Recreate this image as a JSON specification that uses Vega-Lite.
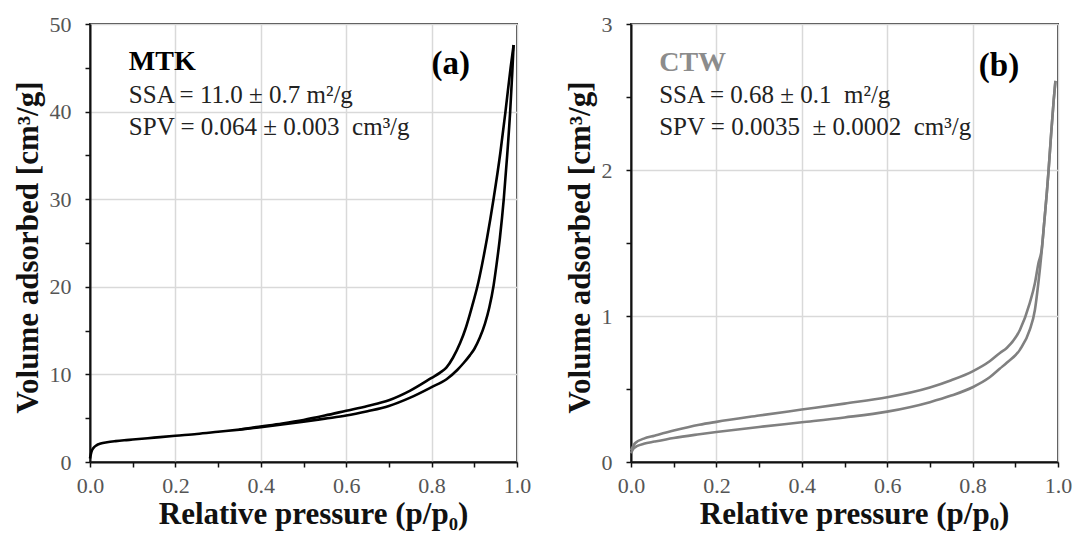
{
  "$schema": "https://vega.github.io/schema/vega-lite/v6.json",
  "autosize": {"type": "pad"},
  "padding": {"left": 11, "top": 12, "right": 5, "bottom": 5},
  "bounds": "flush",
  "spacing": 114,
  "background": "white",
  "config": {
    "font": "Liberation Serif",
    "view": {"stroke": "#3a3a3a", "strokeWidth": 2},
    "axis": {
      "labelFont": "Liberation Serif", "labelFontSize": 22, "labelColor": "#555555",
      "titleFont": "Liberation Serif", "titleFontSize": 31, "titleFontWeight": "bold", "titleColor": "#111111",
      "domainColor": "#111111", "domainWidth": 2, "tickColor": "#111111", "tickWidth": 1.5, "tickSize": 5,
      "gridColor": "#d9d9d9", "gridWidth": 1.5
    }
  },
  "datasets": {
    "curves": [
      {"panel": "MTK", "branch": "adsorption", "x": 0.0, "y": 0.4},
      {"panel": "MTK", "branch": "adsorption", "x": 0.003, "y": 1.1},
      {"panel": "MTK", "branch": "adsorption", "x": 0.008, "y": 1.6},
      {"panel": "MTK", "branch": "adsorption", "x": 0.015, "y": 1.9},
      {"panel": "MTK", "branch": "adsorption", "x": 0.025, "y": 2.1},
      {"panel": "MTK", "branch": "adsorption", "x": 0.04, "y": 2.25},
      {"panel": "MTK", "branch": "adsorption", "x": 0.06, "y": 2.38},
      {"panel": "MTK", "branch": "adsorption", "x": 0.08, "y": 2.48},
      {"panel": "MTK", "branch": "adsorption", "x": 0.1, "y": 2.56},
      {"panel": "MTK", "branch": "adsorption", "x": 0.15, "y": 2.78},
      {"panel": "MTK", "branch": "adsorption", "x": 0.2, "y": 3.0},
      {"panel": "MTK", "branch": "adsorption", "x": 0.25, "y": 3.2},
      {"panel": "MTK", "branch": "adsorption", "x": 0.3, "y": 3.45},
      {"panel": "MTK", "branch": "adsorption", "x": 0.35, "y": 3.7},
      {"panel": "MTK", "branch": "adsorption", "x": 0.4, "y": 3.98},
      {"panel": "MTK", "branch": "adsorption", "x": 0.45, "y": 4.28},
      {"panel": "MTK", "branch": "adsorption", "x": 0.5, "y": 4.6},
      {"panel": "MTK", "branch": "adsorption", "x": 0.55, "y": 4.95},
      {"panel": "MTK", "branch": "adsorption", "x": 0.6, "y": 5.3},
      {"panel": "MTK", "branch": "adsorption", "x": 0.65, "y": 5.8},
      {"panel": "MTK", "branch": "adsorption", "x": 0.7, "y": 6.4},
      {"panel": "MTK", "branch": "adsorption", "x": 0.75, "y": 7.35},
      {"panel": "MTK", "branch": "adsorption", "x": 0.8, "y": 8.55},
      {"panel": "MTK", "branch": "adsorption", "x": 0.835, "y": 9.45},
      {"panel": "MTK", "branch": "adsorption", "x": 0.86, "y": 10.5},
      {"panel": "MTK", "branch": "adsorption", "x": 0.875, "y": 11.3},
      {"panel": "MTK", "branch": "adsorption", "x": 0.89, "y": 12.2},
      {"panel": "MTK", "branch": "adsorption", "x": 0.9, "y": 12.9},
      {"panel": "MTK", "branch": "adsorption", "x": 0.913, "y": 14.2},
      {"panel": "MTK", "branch": "adsorption", "x": 0.925, "y": 15.8},
      {"panel": "MTK", "branch": "adsorption", "x": 0.935, "y": 17.6},
      {"panel": "MTK", "branch": "adsorption", "x": 0.945, "y": 20.1},
      {"panel": "MTK", "branch": "adsorption", "x": 0.952, "y": 22.5},
      {"panel": "MTK", "branch": "adsorption", "x": 0.96, "y": 25.6},
      {"panel": "MTK", "branch": "adsorption", "x": 0.969, "y": 30.0},
      {"panel": "MTK", "branch": "adsorption", "x": 0.977, "y": 35.0},
      {"panel": "MTK", "branch": "adsorption", "x": 0.984, "y": 40.0},
      {"panel": "MTK", "branch": "adsorption", "x": 0.989, "y": 44.5},
      {"panel": "MTK", "branch": "adsorption", "x": 0.992, "y": 47.6},
      {"panel": "MTK", "branch": "desorption", "x": 0.35, "y": 3.72},
      {"panel": "MTK", "branch": "desorption", "x": 0.4, "y": 4.06},
      {"panel": "MTK", "branch": "desorption", "x": 0.45, "y": 4.4},
      {"panel": "MTK", "branch": "desorption", "x": 0.5, "y": 4.8},
      {"panel": "MTK", "branch": "desorption", "x": 0.55, "y": 5.3},
      {"panel": "MTK", "branch": "desorption", "x": 0.6, "y": 5.85},
      {"panel": "MTK", "branch": "desorption", "x": 0.65, "y": 6.4},
      {"panel": "MTK", "branch": "desorption", "x": 0.7, "y": 7.05},
      {"panel": "MTK", "branch": "desorption", "x": 0.75, "y": 8.15},
      {"panel": "MTK", "branch": "desorption", "x": 0.8, "y": 9.6},
      {"panel": "MTK", "branch": "desorption", "x": 0.82, "y": 10.2},
      {"panel": "MTK", "branch": "desorption", "x": 0.835, "y": 10.8},
      {"panel": "MTK", "branch": "desorption", "x": 0.85, "y": 11.9},
      {"panel": "MTK", "branch": "desorption", "x": 0.867, "y": 13.6},
      {"panel": "MTK", "branch": "desorption", "x": 0.88, "y": 15.3},
      {"panel": "MTK", "branch": "desorption", "x": 0.895, "y": 17.8},
      {"panel": "MTK", "branch": "desorption", "x": 0.907, "y": 20.0},
      {"panel": "MTK", "branch": "desorption", "x": 0.918, "y": 22.5},
      {"panel": "MTK", "branch": "desorption", "x": 0.93, "y": 25.6},
      {"panel": "MTK", "branch": "desorption", "x": 0.945, "y": 30.0},
      {"panel": "MTK", "branch": "desorption", "x": 0.961, "y": 35.3},
      {"panel": "MTK", "branch": "desorption", "x": 0.973, "y": 40.0},
      {"panel": "MTK", "branch": "desorption", "x": 0.985, "y": 45.0},
      {"panel": "MTK", "branch": "desorption", "x": 0.992, "y": 47.6},
      {"panel": "CTW", "branch": "adsorption", "x": 0.0, "y": 0.06},
      {"panel": "CTW", "branch": "adsorption", "x": 0.005, "y": 0.09},
      {"panel": "CTW", "branch": "adsorption", "x": 0.015, "y": 0.11},
      {"panel": "CTW", "branch": "adsorption", "x": 0.03, "y": 0.125},
      {"panel": "CTW", "branch": "adsorption", "x": 0.055, "y": 0.14},
      {"panel": "CTW", "branch": "adsorption", "x": 0.1, "y": 0.165},
      {"panel": "CTW", "branch": "adsorption", "x": 0.16, "y": 0.19},
      {"panel": "CTW", "branch": "adsorption", "x": 0.2, "y": 0.205},
      {"panel": "CTW", "branch": "adsorption", "x": 0.3, "y": 0.24},
      {"panel": "CTW", "branch": "adsorption", "x": 0.4, "y": 0.272},
      {"panel": "CTW", "branch": "adsorption", "x": 0.5, "y": 0.305},
      {"panel": "CTW", "branch": "adsorption", "x": 0.6, "y": 0.345},
      {"panel": "CTW", "branch": "adsorption", "x": 0.7, "y": 0.41},
      {"panel": "CTW", "branch": "adsorption", "x": 0.75, "y": 0.455},
      {"panel": "CTW", "branch": "adsorption", "x": 0.8, "y": 0.512},
      {"panel": "CTW", "branch": "adsorption", "x": 0.84, "y": 0.58},
      {"panel": "CTW", "branch": "adsorption", "x": 0.864, "y": 0.64},
      {"panel": "CTW", "branch": "adsorption", "x": 0.88, "y": 0.68},
      {"panel": "CTW", "branch": "adsorption", "x": 0.911, "y": 0.77},
      {"panel": "CTW", "branch": "adsorption", "x": 0.934, "y": 0.906},
      {"panel": "CTW", "branch": "adsorption", "x": 0.946, "y": 1.043},
      {"panel": "CTW", "branch": "adsorption", "x": 0.954, "y": 1.226},
      {"panel": "CTW", "branch": "adsorption", "x": 0.962, "y": 1.45},
      {"panel": "CTW", "branch": "adsorption", "x": 0.968, "y": 1.65},
      {"panel": "CTW", "branch": "adsorption", "x": 0.974, "y": 1.85},
      {"panel": "CTW", "branch": "adsorption", "x": 0.978, "y": 2.0},
      {"panel": "CTW", "branch": "adsorption", "x": 0.984, "y": 2.25},
      {"panel": "CTW", "branch": "adsorption", "x": 0.99, "y": 2.48},
      {"panel": "CTW", "branch": "adsorption", "x": 0.994, "y": 2.61},
      {"panel": "CTW", "branch": "desorption", "x": 0.0, "y": 0.08},
      {"panel": "CTW", "branch": "desorption", "x": 0.01, "y": 0.13},
      {"panel": "CTW", "branch": "desorption", "x": 0.03, "y": 0.16},
      {"panel": "CTW", "branch": "desorption", "x": 0.055, "y": 0.18},
      {"panel": "CTW", "branch": "desorption", "x": 0.1, "y": 0.215},
      {"panel": "CTW", "branch": "desorption", "x": 0.16, "y": 0.255},
      {"panel": "CTW", "branch": "desorption", "x": 0.2, "y": 0.275},
      {"panel": "CTW", "branch": "desorption", "x": 0.3, "y": 0.318},
      {"panel": "CTW", "branch": "desorption", "x": 0.4, "y": 0.359},
      {"panel": "CTW", "branch": "desorption", "x": 0.5, "y": 0.4},
      {"panel": "CTW", "branch": "desorption", "x": 0.6, "y": 0.443},
      {"panel": "CTW", "branch": "desorption", "x": 0.7, "y": 0.51},
      {"panel": "CTW", "branch": "desorption", "x": 0.75, "y": 0.56},
      {"panel": "CTW", "branch": "desorption", "x": 0.8, "y": 0.621},
      {"panel": "CTW", "branch": "desorption", "x": 0.84, "y": 0.69},
      {"panel": "CTW", "branch": "desorption", "x": 0.864, "y": 0.747},
      {"panel": "CTW", "branch": "desorption", "x": 0.88, "y": 0.781},
      {"panel": "CTW", "branch": "desorption", "x": 0.911, "y": 0.906},
      {"panel": "CTW", "branch": "desorption", "x": 0.934, "y": 1.09},
      {"panel": "CTW", "branch": "desorption", "x": 0.946, "y": 1.226},
      {"panel": "CTW", "branch": "desorption", "x": 0.954, "y": 1.36},
      {"panel": "CTW", "branch": "desorption", "x": 0.962, "y": 1.46},
      {"panel": "CTW", "branch": "desorption", "x": 0.968, "y": 1.65},
      {"panel": "CTW", "branch": "desorption", "x": 0.974, "y": 1.85},
      {"panel": "CTW", "branch": "desorption", "x": 0.978, "y": 2.0},
      {"panel": "CTW", "branch": "desorption", "x": 0.984, "y": 2.25},
      {"panel": "CTW", "branch": "desorption", "x": 0.99, "y": 2.48},
      {"panel": "CTW", "branch": "desorption", "x": 0.994, "y": 2.61}
    ],
    "labels": [
      {"panel": "MTK", "kind": "name", "x": 0.091, "y": 44.7, "text": "MTK"},
      {"panel": "MTK", "kind": "tag", "x": 0.89, "y": 44.3, "text": "(a)"},
      {"panel": "MTK", "kind": "info", "x": 0.091, "y": 41.0, "text": "SSA = 11.0 ± 0.7 m²/g"},
      {"panel": "MTK", "kind": "info", "x": 0.091, "y": 37.3, "text": "SPV = 0.064 ± 0.003\u00a0 cm³/g"},
      {"panel": "CTW", "kind": "name", "x": 0.066, "y": 2.68, "text": "CTW"},
      {"panel": "CTW", "kind": "tag", "x": 0.909, "y": 2.644, "text": "(b)"},
      {"panel": "CTW", "kind": "info", "x": 0.066, "y": 2.459, "text": "SSA = 0.68 ± 0.1\u00a0 m²/g"},
      {"panel": "CTW", "kind": "info", "x": 0.066, "y": 2.243, "text": "SPV = 0.0035\u00a0 ± 0.0002\u00a0 cm³/g"}
    ]
  },
  "hconcat": [
    {
      "width": 427,
      "height": 438,
      "encoding": {
        "x": {"field": "x", "type": "quantitative",
          "scale": {"domain": [0, 1], "nice": false, "zero": false},
          "axis": {"title": "Relative pressure (p/p₀)", "values": [0, 0.1, 0.2, 0.3, 0.4, 0.5, 0.6, 0.7, 0.8, 0.9, 1.0],
            "labelExpr": "round(datum.value*10)%2==0 ? format(datum.value, '.1f') : ''",
            "gridOpacity": {"condition": {"test": "round(datum.value*10)%2==1", "value": 0}, "value": 1},
            "labelFlush": false, "labelPadding": 8, "titlePadding": 3, "titleX": 223}},
        "y": {"field": "y", "type": "quantitative",
          "scale": {"domain": [0, 50], "nice": false},
          "axis": {"title": "Volume adsorbed [cm³/g]", "values": [0, 5, 10, 15, 20, 25, 30, 35, 40, 45, 50],
            "labelExpr": "round(datum.value)%10==0 ? format(datum.value, 'd') : ''",
            "gridOpacity": {"condition": {"test": "round(datum.value)%10!=0", "value": 0}, "value": 1},
            "labelPadding": 14, "titlePadding": 5, "titleY": 223}}
      },
      "layer": [
        {
          "data": {"name": "curves"},
          "transform": [{"filter": "datum.panel == 'MTK'"}],
          "mark": {"type": "line", "color": "#000000", "strokeWidth": 2.6, "interpolate": "monotone"},
          "encoding": {"detail": {"field": "branch"}, "order": {"field": "x", "type": "quantitative"}}
        },
        {
          "data": {"name": "labels"},
          "transform": [{"filter": "datum.panel == 'MTK' && datum.kind == 'name'"}],
          "mark": {"type": "text", "align": "left", "baseline": "alphabetic", "font": "Liberation Serif", "fontSize": 28, "fontWeight": "bold", "color": "#000000"},
          "encoding": {"text": {"field": "text"}}
        },
        {
          "data": {"name": "labels"},
          "transform": [{"filter": "datum.panel == 'MTK' && datum.kind == 'tag'"}],
          "mark": {"type": "text", "align": "right", "baseline": "alphabetic", "font": "Liberation Serif", "fontSize": 33, "fontWeight": "bold", "color": "#000000"},
          "encoding": {"text": {"field": "text"}}
        },
        {
          "data": {"name": "labels"},
          "transform": [{"filter": "datum.panel == 'MTK' && datum.kind == 'info'"}],
          "mark": {"type": "text", "align": "left", "baseline": "alphabetic", "font": "Liberation Serif", "fontSize": 25, "color": "#222222"},
          "encoding": {"text": {"field": "text"}}
        }
      ]
    },
    {
      "width": 427,
      "height": 438,
      "encoding": {
        "x": {"field": "x", "type": "quantitative",
          "scale": {"domain": [0, 1], "nice": false, "zero": false},
          "axis": {"title": "Relative pressure (p/p₀)", "values": [0, 0.1, 0.2, 0.3, 0.4, 0.5, 0.6, 0.7, 0.8, 0.9, 1.0],
            "labelExpr": "round(datum.value*10)%2==0 ? format(datum.value, '.1f') : ''",
            "gridOpacity": {"condition": {"test": "round(datum.value*10)%2==1", "value": 0}, "value": 1},
            "labelFlush": false, "labelPadding": 8, "titlePadding": 3, "titleX": 223}},
        "y": {"field": "y", "type": "quantitative",
          "scale": {"domain": [0, 3], "nice": false},
          "axis": {"title": "Volume adsorbed [cm³/g]", "values": [0, 0.5, 1, 1.5, 2, 2.5, 3],
            "labelExpr": "round(datum.value*2)%2==0 ? format(datum.value, 'd') : ''",
            "gridOpacity": {"condition": {"test": "round(datum.value*2)%2==1", "value": 0}, "value": 1},
            "labelPadding": 14, "titlePadding": 5, "titleY": 223}}
      },
      "layer": [
        {
          "data": {"name": "curves"},
          "transform": [{"filter": "datum.panel == 'CTW'"}],
          "mark": {"type": "line", "color": "#808080", "strokeWidth": 2.6, "interpolate": "monotone"},
          "encoding": {"detail": {"field": "branch"}, "order": {"field": "x", "type": "quantitative"}}
        },
        {
          "data": {"name": "labels"},
          "transform": [{"filter": "datum.panel == 'CTW' && datum.kind == 'name'"}],
          "mark": {"type": "text", "align": "left", "baseline": "alphabetic", "font": "Liberation Serif", "fontSize": 28, "fontWeight": "bold", "color": "#8c8c8c"},
          "encoding": {"text": {"field": "text"}}
        },
        {
          "data": {"name": "labels"},
          "transform": [{"filter": "datum.panel == 'CTW' && datum.kind == 'tag'"}],
          "mark": {"type": "text", "align": "right", "baseline": "alphabetic", "font": "Liberation Serif", "fontSize": 33, "fontWeight": "bold", "color": "#000000"},
          "encoding": {"text": {"field": "text"}}
        },
        {
          "data": {"name": "labels"},
          "transform": [{"filter": "datum.panel == 'CTW' && datum.kind == 'info'"}],
          "mark": {"type": "text", "align": "left", "baseline": "alphabetic", "font": "Liberation Serif", "fontSize": 25, "color": "#222222"},
          "encoding": {"text": {"field": "text"}}
        }
      ]
    }
  ]
}
